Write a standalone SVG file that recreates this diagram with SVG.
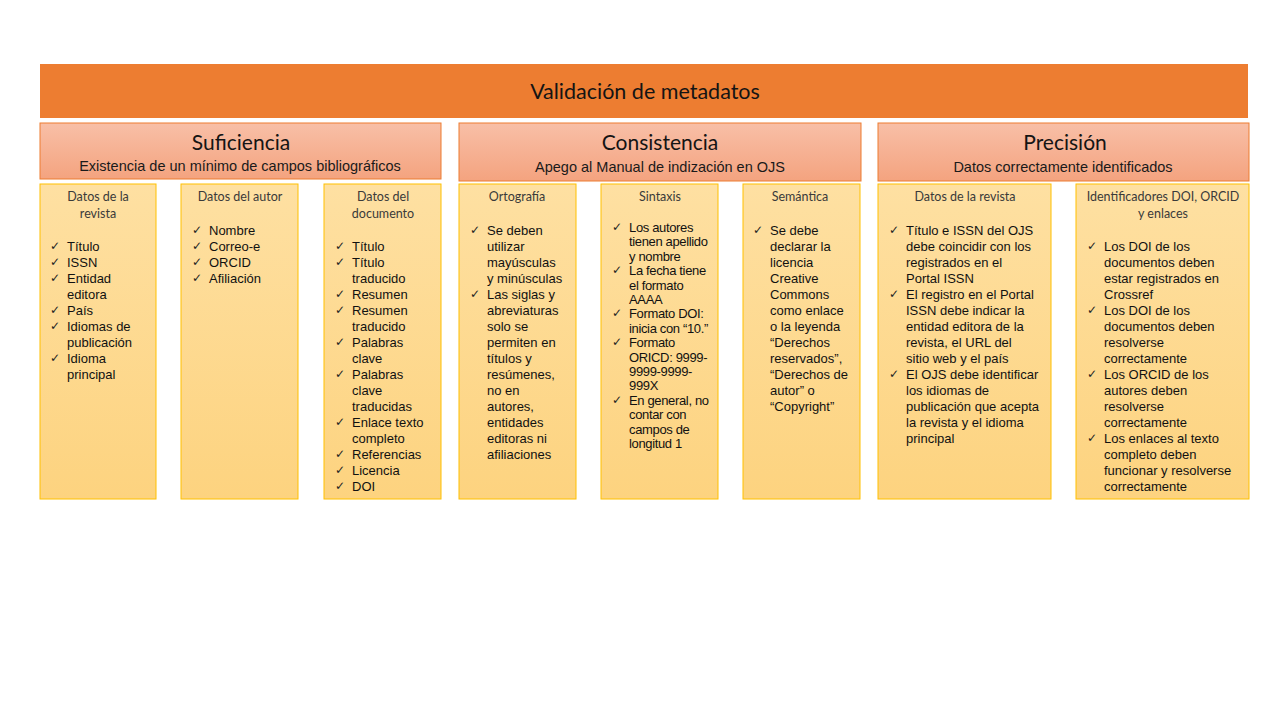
<svg xmlns="http://www.w3.org/2000/svg" width="1280" height="720" viewBox="0 0 1280 720">
<defs>
<linearGradient id="gHead" x1="0" y1="0" x2="0" y2="1">
<stop offset="0" stop-color="#F8BFA7"/>
<stop offset="1" stop-color="#F4A37F"/>
</linearGradient>
<linearGradient id="gBox" x1="0" y1="0" x2="0" y2="1">
<stop offset="0" stop-color="#FEE0A2"/>
<stop offset="1" stop-color="#FDD37F"/>
</linearGradient>
</defs>
<style>
.top{fill:#ED7D31}
.head{fill:url(#gHead);stroke:#ED7D31;stroke-width:1}
.box{fill:url(#gBox);stroke:#FFC000;stroke-width:1}
.ttl{font-family:Lato,"Open Sans",sans-serif;font-size:21.5px;fill:#141414;text-anchor:middle}
.sec{font-family:Lato,"Open Sans",sans-serif;font-size:21px;fill:#141414;text-anchor:middle}
.sub{font-family:"Liberation Sans",Arial,sans-serif;font-size:14.5px;fill:#1a1a1a;text-anchor:middle}
.bh{font-family:Lato,"Open Sans",sans-serif;font-size:12.5px;fill:#3a3a3a;text-anchor:middle}
.t{font-family:"Liberation Sans",Arial,sans-serif;font-size:13px;fill:#111}
.tc{font-family:"Liberation Sans",Arial,sans-serif;font-size:13px;fill:#111;letter-spacing:-0.35px}
.ck{font-family:"DejaVu Sans",sans-serif;font-size:12px;fill:#222}
</style>
<rect width="1280" height="720" fill="#FFFFFF"/>

<g id="title">
<rect class="top" x="40" y="64" width="1208" height="54"/>
<text class="ttl" x="645" y="99">Validación de metadatos</text>
</g>

<g id="suficiencia">
<rect class="head" x="40" y="123" width="401" height="56"/>
<text class="sec" x="241" y="150">Suficiencia</text>
<text class="sub" x="240" y="171">Existencia de un mínimo de campos bibliográficos</text>
</g>

<g id="consistencia">
<rect class="head" x="459" y="123" width="402" height="58"/>
<text class="sec" x="660" y="150">Consistencia</text>
<text class="sub" x="660" y="172">Apego al Manual de indización en OJS</text>
</g>

<g id="precision">
<rect class="head" x="878" y="123" width="371" height="58"/>
<text class="sec" x="1065" y="150">Precisión</text>
<text class="sub" x="1063" y="172">Datos correctamente identificados</text>
</g>

<g id="datos-revista-1">
<rect class="box" x="40" y="184" width="116" height="315"/>
<text class="bh" x="98" y="201">Datos de la</text>
<text class="bh" x="98" y="218">revista</text>
<text class="ck" x="50" y="250">✓</text><text class="t" x="67" y="251">Título</text>
<text class="ck" x="50" y="266">✓</text><text class="t" x="67" y="267">ISSN</text>
<text class="ck" x="50" y="282">✓</text><text class="t" x="67" y="283">Entidad</text>
<text class="t" x="67" y="299">editora</text>
<text class="ck" x="50" y="314">✓</text><text class="t" x="67" y="315">País</text>
<text class="ck" x="50" y="330">✓</text><text class="t" x="67" y="331">Idiomas de</text>
<text class="t" x="67" y="347">publicación</text>
<text class="ck" x="50" y="362">✓</text><text class="t" x="67" y="363">Idioma</text>
<text class="t" x="67" y="379">principal</text>
</g>

<g id="datos-autor">
<rect class="box" x="181" y="184" width="117" height="315"/>
<text class="bh" x="240" y="201">Datos del autor</text>
<text class="ck" x="192" y="234">✓</text><text class="t" x="209" y="235">Nombre</text>
<text class="ck" x="192" y="250">✓</text><text class="t" x="209" y="251">Correo-e</text>
<text class="ck" x="192" y="266">✓</text><text class="t" x="209" y="267">ORCID</text>
<text class="ck" x="192" y="282">✓</text><text class="t" x="209" y="283">Afiliación</text>
</g>

<g id="datos-documento">
<rect class="box" x="324" y="184" width="117" height="315"/>
<text class="bh" x="383" y="201">Datos del</text>
<text class="bh" x="383" y="218">documento</text>
<text class="ck" x="335" y="250">✓</text><text class="t" x="352" y="251">Título</text>
<text class="ck" x="335" y="266">✓</text><text class="t" x="352" y="267">Título</text>
<text class="t" x="352" y="283">traducido</text>
<text class="ck" x="335" y="298">✓</text><text class="t" x="352" y="299">Resumen</text>
<text class="ck" x="335" y="314">✓</text><text class="t" x="352" y="315">Resumen</text>
<text class="t" x="352" y="331">traducido</text>
<text class="ck" x="335" y="346">✓</text><text class="t" x="352" y="347">Palabras</text>
<text class="t" x="352" y="363">clave</text>
<text class="ck" x="335" y="378">✓</text><text class="t" x="352" y="379">Palabras</text>
<text class="t" x="352" y="395">clave</text>
<text class="t" x="352" y="411">traducidas</text>
<text class="ck" x="335" y="426">✓</text><text class="t" x="352" y="427">Enlace texto</text>
<text class="t" x="352" y="443">completo</text>
<text class="ck" x="335" y="458">✓</text><text class="t" x="352" y="459">Referencias</text>
<text class="ck" x="335" y="474">✓</text><text class="t" x="352" y="475">Licencia</text>
<text class="ck" x="335" y="490">✓</text><text class="t" x="352" y="491">DOI</text>
</g>

<g id="ortografia">
<rect class="box" x="459" y="184" width="117" height="315"/>
<text class="bh" x="517" y="201">Ortografía</text>
<text class="ck" x="470" y="234">✓</text><text class="t" x="487" y="235">Se deben</text>
<text class="t" x="487" y="251">utilizar</text>
<text class="t" x="487" y="267">mayúsculas</text>
<text class="t" x="487" y="283">y minúsculas</text>
<text class="ck" x="470" y="298">✓</text><text class="t" x="487" y="299">Las siglas y</text>
<text class="t" x="487" y="315">abreviaturas</text>
<text class="t" x="487" y="331">solo se</text>
<text class="t" x="487" y="347">permiten en</text>
<text class="t" x="487" y="363">títulos y</text>
<text class="t" x="487" y="379">resúmenes,</text>
<text class="t" x="487" y="395">no en</text>
<text class="t" x="487" y="411">autores,</text>
<text class="t" x="487" y="427">entidades</text>
<text class="t" x="487" y="443">editoras ni</text>
<text class="t" x="487" y="459">afiliaciones</text>
</g>

<g id="sintaxis">
<rect class="box" x="601" y="184" width="117" height="315"/>
<text class="bh" x="660" y="201">Sintaxis</text>
<text class="ck" x="612" y="231">✓</text><text class="tc" x="629" y="232">Los autores</text>
<text class="tc" x="629" y="246.4">tienen apellido</text>
<text class="tc" x="629" y="260.8">y nombre</text>
<text class="ck" x="612" y="274.2">✓</text><text class="tc" x="629" y="275.2">La fecha tiene</text>
<text class="tc" x="629" y="289.6">el formato</text>
<text class="tc" x="629" y="304">AAAA</text>
<text class="ck" x="612" y="317.4">✓</text><text class="tc" x="629" y="318.4">Formato DOI:</text>
<text class="tc" x="629" y="332.8">inicia con “10.”</text>
<text class="ck" x="612" y="346.2">✓</text><text class="tc" x="629" y="347.2">Formato</text>
<text class="tc" x="629" y="361.6">ORICD: 9999-</text>
<text class="tc" x="629" y="376">9999-9999-</text>
<text class="tc" x="629" y="390.4">999X</text>
<text class="ck" x="612" y="403.8">✓</text><text class="tc" x="629" y="404.8">En general, no</text>
<text class="tc" x="629" y="419.2">contar con</text>
<text class="tc" x="629" y="433.6">campos de</text>
<text class="tc" x="629" y="448">longitud 1</text>
</g>

<g id="semantica">
<rect class="box" x="743" y="184" width="117" height="315"/>
<text class="bh" x="800" y="201">Semántica</text>
<text class="ck" x="753" y="234">✓</text><text class="t" x="770" y="235">Se debe</text>
<text class="t" x="770" y="251">declarar la</text>
<text class="t" x="770" y="267">licencia</text>
<text class="t" x="770" y="283">Creative</text>
<text class="t" x="770" y="299">Commons</text>
<text class="t" x="770" y="315">como enlace</text>
<text class="t" x="770" y="331">o la leyenda</text>
<text class="t" x="770" y="347">“Derechos</text>
<text class="t" x="770" y="363">reservados”,</text>
<text class="t" x="770" y="379">“Derechos de</text>
<text class="t" x="770" y="395">autor” o</text>
<text class="t" x="770" y="411">“Copyright”</text>
</g>

<g id="datos-revista-2">
<rect class="box" x="878" y="184" width="173" height="315"/>
<text class="bh" x="965" y="201">Datos de la revista</text>
<text class="ck" x="889" y="234">✓</text><text class="t" x="906" y="235">Título e ISSN del OJS</text>
<text class="t" x="906" y="251">debe coincidir con los</text>
<text class="t" x="906" y="267">registrados en el</text>
<text class="t" x="906" y="283">Portal ISSN</text>
<text class="ck" x="889" y="298">✓</text><text class="t" x="906" y="299">El registro en el Portal</text>
<text class="t" x="906" y="315">ISSN debe indicar la</text>
<text class="t" x="906" y="331">entidad editora de la</text>
<text class="t" x="906" y="347">revista, el URL del</text>
<text class="t" x="906" y="363">sitio web y el país</text>
<text class="ck" x="889" y="378">✓</text><text class="t" x="906" y="379">El OJS debe identificar</text>
<text class="t" x="906" y="395">los idiomas de</text>
<text class="t" x="906" y="411">publicación que acepta</text>
<text class="t" x="906" y="427">la revista y el idioma</text>
<text class="t" x="906" y="443">principal</text>
</g>

<g id="identificadores">
<rect class="box" x="1076" y="184" width="173" height="315"/>
<text class="bh" x="1163" y="201">Identificadores DOI, ORCID</text>
<text class="bh" x="1163" y="218">y enlaces</text>
<text class="ck" x="1087" y="250">✓</text><text class="t" x="1104" y="251">Los DOI de los</text>
<text class="t" x="1104" y="267">documentos deben</text>
<text class="t" x="1104" y="283">estar registrados en</text>
<text class="t" x="1104" y="299">Crossref</text>
<text class="ck" x="1087" y="314">✓</text><text class="t" x="1104" y="315">Los DOI de los</text>
<text class="t" x="1104" y="331">documentos deben</text>
<text class="t" x="1104" y="347">resolverse</text>
<text class="t" x="1104" y="363">correctamente</text>
<text class="ck" x="1087" y="378">✓</text><text class="t" x="1104" y="379">Los ORCID de los</text>
<text class="t" x="1104" y="395">autores deben</text>
<text class="t" x="1104" y="411">resolverse</text>
<text class="t" x="1104" y="427">correctamente</text>
<text class="ck" x="1087" y="442">✓</text><text class="t" x="1104" y="443">Los enlaces al texto</text>
<text class="t" x="1104" y="459">completo deben</text>
<text class="t" x="1104" y="475">funcionar y resolverse</text>
<text class="t" x="1104" y="491">correctamente</text>
</g>

<g id="connectors"></g>
</svg>
